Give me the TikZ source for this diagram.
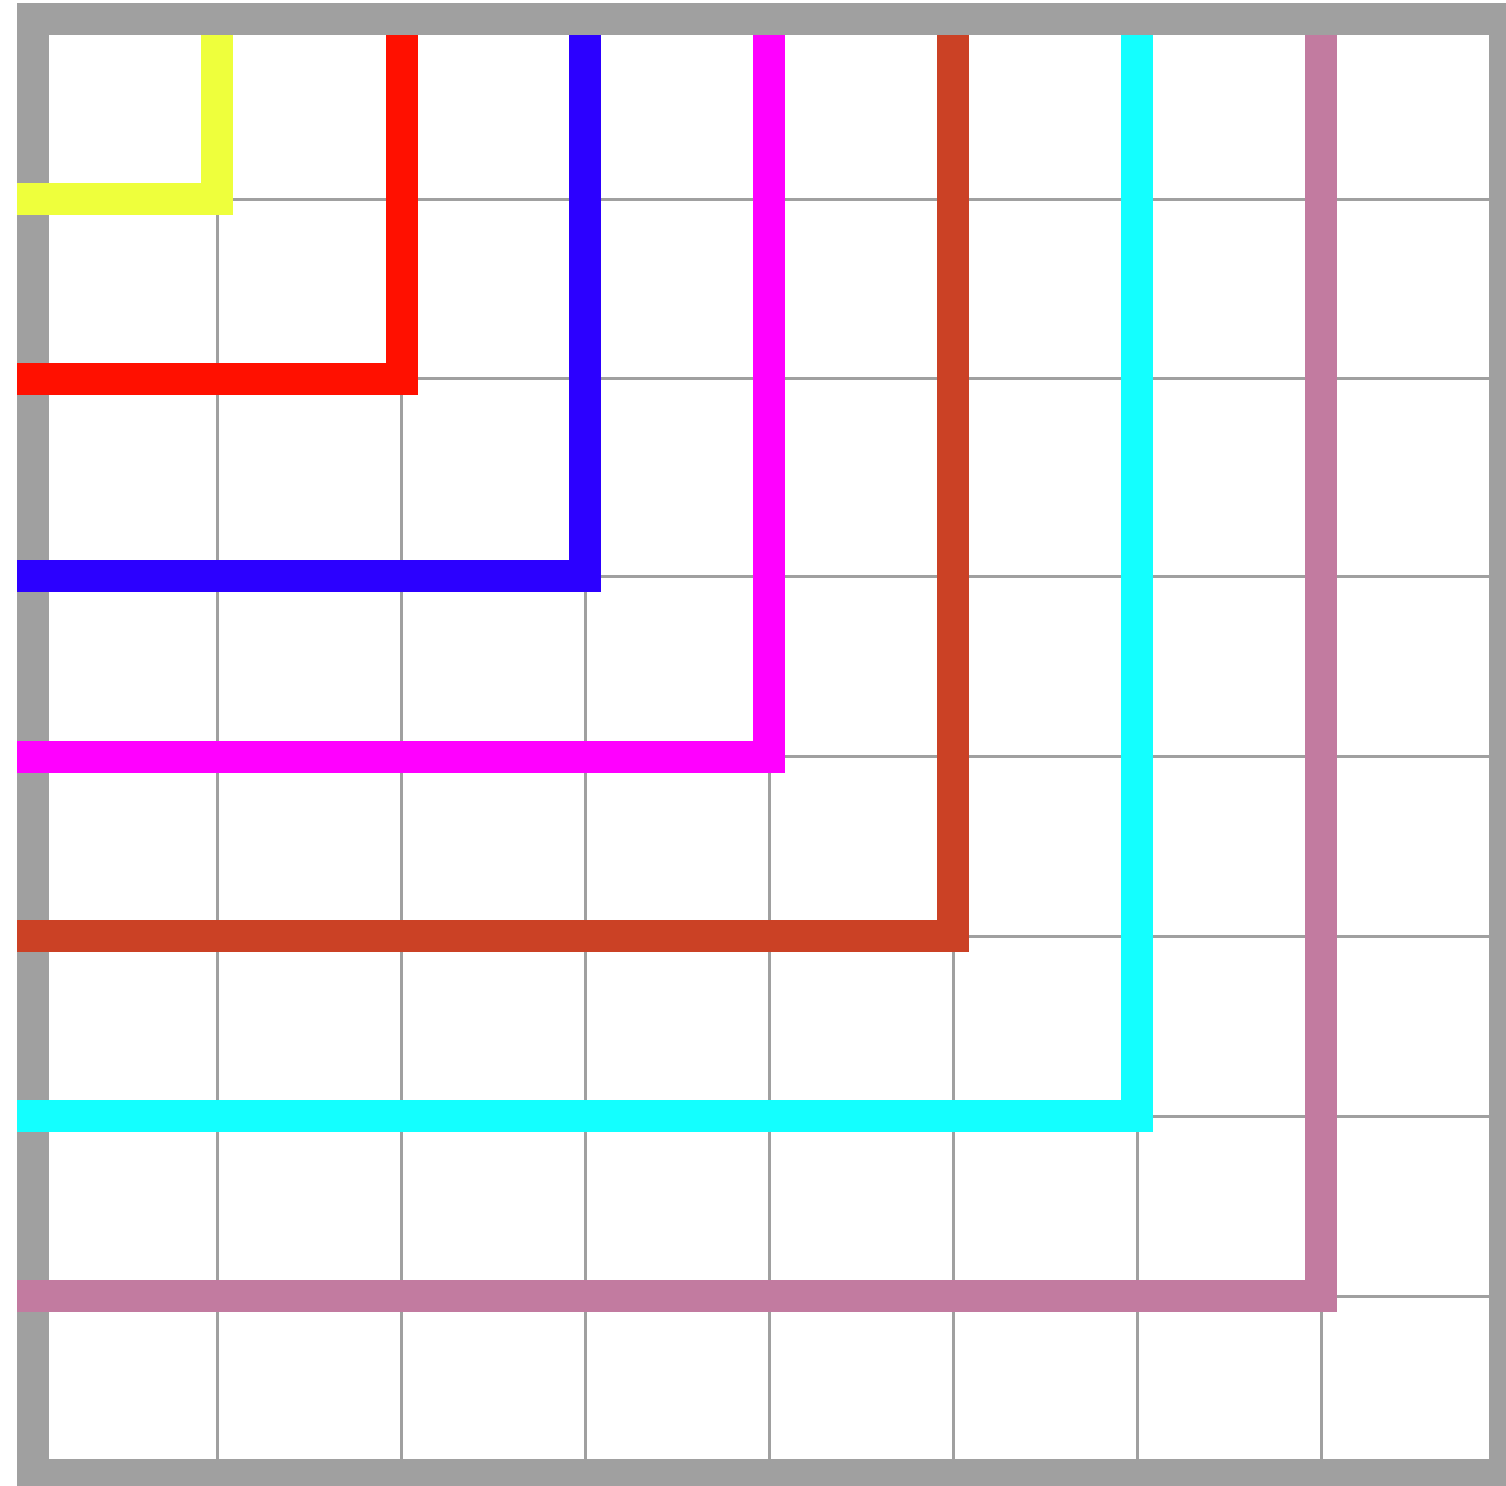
\documentclass[tikz,border=0pt]{standalone}
\definecolor{framegray}{RGB}{160,160,160}
\definecolor{cyel}{RGB}{238,255,60}
\definecolor{cred}{RGB}{255,16,0}
\definecolor{cblue}{RGB}{44,0,255}
\definecolor{cmag}{RGB}{255,0,255}
\definecolor{cbrown}{RGB}{203,65,37}
\definecolor{ccyan}{RGB}{19,255,255}
\definecolor{cpink}{RGB}{194,123,160}
\tikzset{
  gridline/.style={draw=framegray, line width=1.5pt},
  frameline/.style={draw=framegray, line width=16pt, line join=miter},
  ell/.style={line width=16pt, line join=miter, line cap=butt}
}
\begin{document}
\begin{tikzpicture}[x=0.5pt,y=-0.5pt]
\useasboundingbox (0,0) rectangle (1506,1486);
\clip (0,0) rectangle (1506,1486);
\fill[white] (0,0) rectangle (1506,1486);
% grid
\foreach \gx in {217,401,585,769,953,1137,1321}
  \draw[gridline] (\gx,35) -- (\gx,1459);
\foreach \gy in {199.5,379,577,756.5,936,1116,1296}
  \draw[gridline] (49,\gy) -- (1489,\gy);
% frame
\draw[frameline] (33,19.5) rectangle (1505,1475);
% L-shaped lines
\foreach \lx/\ly/\lc in {217/199/cyel, 402/379/cred, 585/576/cblue, 769/757/cmag, 953/936/cbrown, 1137/1116/ccyan, 1321/1295.5/cpink}
  \draw[ell, draw=\lc] (\lx,35) -- (\lx,\ly) -- (17,\ly);
\end{tikzpicture}
\end{document}
